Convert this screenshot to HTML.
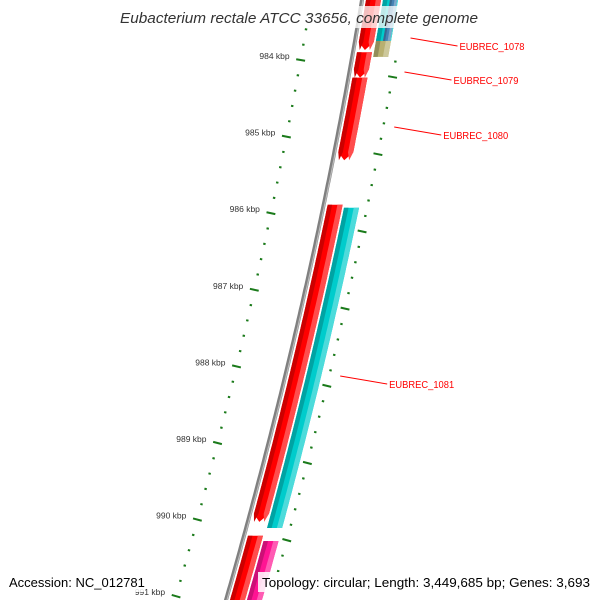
<!DOCTYPE html>
<html><head><meta charset="utf-8"><style>
html,body{margin:0;padding:0;background:#fff;}
svg{display:block;font-family:"Liberation Sans","DejaVu Sans",sans-serif;}
</style></head><body>
<svg id="chart" width="600" height="600" viewBox="0 0 600 600" xmlns="http://www.w3.org/2000/svg">
<g id="ticks"></g>
<g id="backbone"></g>
<g id="genes"></g>
<g id="labels"></g>
<rect x="114" y="6" width="370" height="22" fill="#fff" opacity="0.75"/>
<text x="120" y="23" textLength="358" lengthAdjust="spacingAndGlyphs" font-size="15" font-style="italic" fill="#333">Eubacterium rectale ATCC 33656, complete genome</text>
<rect x="5" y="572" width="140" height="20" fill="#fff" opacity="0.85"/>
<text x="9" y="587" font-size="13" fill="#000">Accession: NC_012781</text>
<rect x="258" y="572" width="336" height="20" fill="#fff" opacity="0.85"/>
<text x="262" y="587" textLength="328" lengthAdjust="spacingAndGlyphs" font-size="13" fill="#000">Topology: circular; Length: 3,449,685 bp; Genes: 3,693</text>
</svg>
<script>
const majorKbp=[984,985,986,987,988,989,990,991];
const geneStart=[983.15,983.90,984.23,985.89,990.21,985.93,983.58,990.28,982.9,982.9];
const geneEnd=[983.87,984.23,985.31,990.03,991.2,990.11,983.96,991.2,983.75,983.75];
const geneTrack=[0,0,0,0,0,1,1,1,1,1.5];
const geneColor=['#ff0000','#ff0000','#ff0000','#ff0000','#ff0000','#00cccc','#b8b070','#ff1493','#00cccc','#4682b4'];
const geneArrow=[1,1,1,1,0,0,0,0,0,0];
const labelText=['EUBREC_1078','EUBREC_1079','EUBREC_1080','EUBREC_1081'];
const labelKbp=[983.72,984.16,984.88,988.14];
const labelY=[46,80,135,384];

const NS='http://www.w3.org/2000/svg';
function yOf(k){return 60+(k-984)*76.6;}
function bx(y){return 362-0.1667*y-0.0001*y*y;}
function nrm(y){const s=0.1667+0.0002*y;const L=Math.sqrt(1+s*s);return [1/L,s/L];}
function mk(tag,attrs,parent){const e=document.createElementNS(NS,tag);for(const a in attrs)e.setAttribute(a,attrs[a]);parent.appendChild(e);return e;}

// backbone
const bb=document.getElementById('backbone');
let d='';for(let y=-5;y<=605;y+=5){d+=(y===-5?'M':'L')+bx(y).toFixed(1)+','+y;}
const bp=mk('path',{d:d,fill:'none',stroke:'#808080','stroke-width':4},bb);


mk('path',{d:d,fill:'none',stroke:'#bbb','stroke-width':1.2,transform:'translate(1,0)'},bb);

// ticks
const tg=document.getElementById('ticks');
const kmin=982.9,kmax=991.3;
for(let i=Math.ceil(kmin*5);i<=kmax*5;i++){
  const k=i/5;const y=yOf(k);const major=(i%5===0);
  const x=bx(y)-51;const n=nrm(y);const h=major?4.5:1.2;
  const t=mk('line',{x1:x-n[0]*h,y1:y-n[1]*h,x2:x+n[0]*h,y2:y+n[1]*h,stroke:'#1a7a1a','stroke-width':2},tg);
  
  
  if(major){
    const lb=mk('text',{x:x-11,y:y-1,'text-anchor':'end','font-size':8.5,fill:'#333'},tg);
    lb.textContent=k+' kbp';
    
    
  }
}
// inner ticks
for(let i=-1;i<=40;i++){
  const y=77+i*15.44;if(y<25||y>600)continue;const major=((i%5)+5)%5===0;
  const x=bx(y)+44;const n=nrm(y);const h=major?4.5:1.2;
  const t=mk('line',{x1:x-n[0]*h,y1:y-n[1]*h,x2:x+n[0]*h,y2:y+n[1]*h,stroke:'#1a7a1a','stroke-width':2},tg);
  
  
}

// genes
const gg=document.getElementById('genes');
function shade(c,f){const n=parseInt(c.slice(1),16);let r=n>>16,g=(n>>8)&255,b=n&255;
 if(f>0){r+=(255-r)*f;g+=(255-g)*f;b+=(255-b)*f;}else{r*=1+f;g*=1+f;b*=1+f;}
 return 'rgb('+Math.round(r)+','+Math.round(g)+','+Math.round(b)+')';}
function band(y1,y2,o1,o2,arrow){
  const pts=[];const tip=arrow?Math.min(8,(y2-y1)/2):0;const ye=y2-tip;
  for(let y=y1;y<=ye;y+=4)pts.push([bx(y)+o1,y]);pts.push([bx(ye)+o1,ye]);
  if(arrow)pts.push([bx(y2)+(o1+o2)/2,y2]);
  pts.push([bx(ye)+o2,ye]);
  for(let y=ye;y>=y1;y-=4)pts.push([bx(y)+o2,y]);pts.push([bx(y1)+o2,y1]);
  return pts.map(p=>p[0].toFixed(1)+','+p[1].toFixed(1)).join(' ');
}
for(let i=0;i<geneStart.length;i++){
  const y1=yOf(geneStart[i]),y2=yOf(geneEnd[i]);
  const base=geneTrack[i]===0?4:(geneTrack[i]===1?21:28);
  const w=geneTrack[i]===1.5?7:15;
  const g=mk('g',{},gg);
  
  
  const c=geneColor[i];
  mk('polygon',{points:band(y1,y2,base,base+w,geneArrow[i]),fill:c},g);
  mk('polygon',{points:band(y1,y2,base,base+w*0.3,geneArrow[i]),fill:shade(c,-0.2)},g);
  mk('polygon',{points:band(y1,y2,base+w*0.65,base+w,geneArrow[i]),fill:shade(c,0.3)},g);
}

// labels
const lg=document.getElementById('labels');
for(let i=0;i<labelText.length;i++){
  const ty=labelY[i];const y0=ty-8;const x0=bx(y0)+55;
  const tx=x0+49;
  const l=mk('line',{x1:x0,y1:y0,x2:tx-2,y2:ty,stroke:'#ff0000','stroke-width':1},lg);
  
  
  const t=mk('text',{x:tx,y:ty+4,'font-size':10.5,fill:'#ff0000',textLength:65,lengthAdjust:'spacingAndGlyphs'},lg);
  t.textContent=labelText[i];
  
  
}
</script>
</body></html>
